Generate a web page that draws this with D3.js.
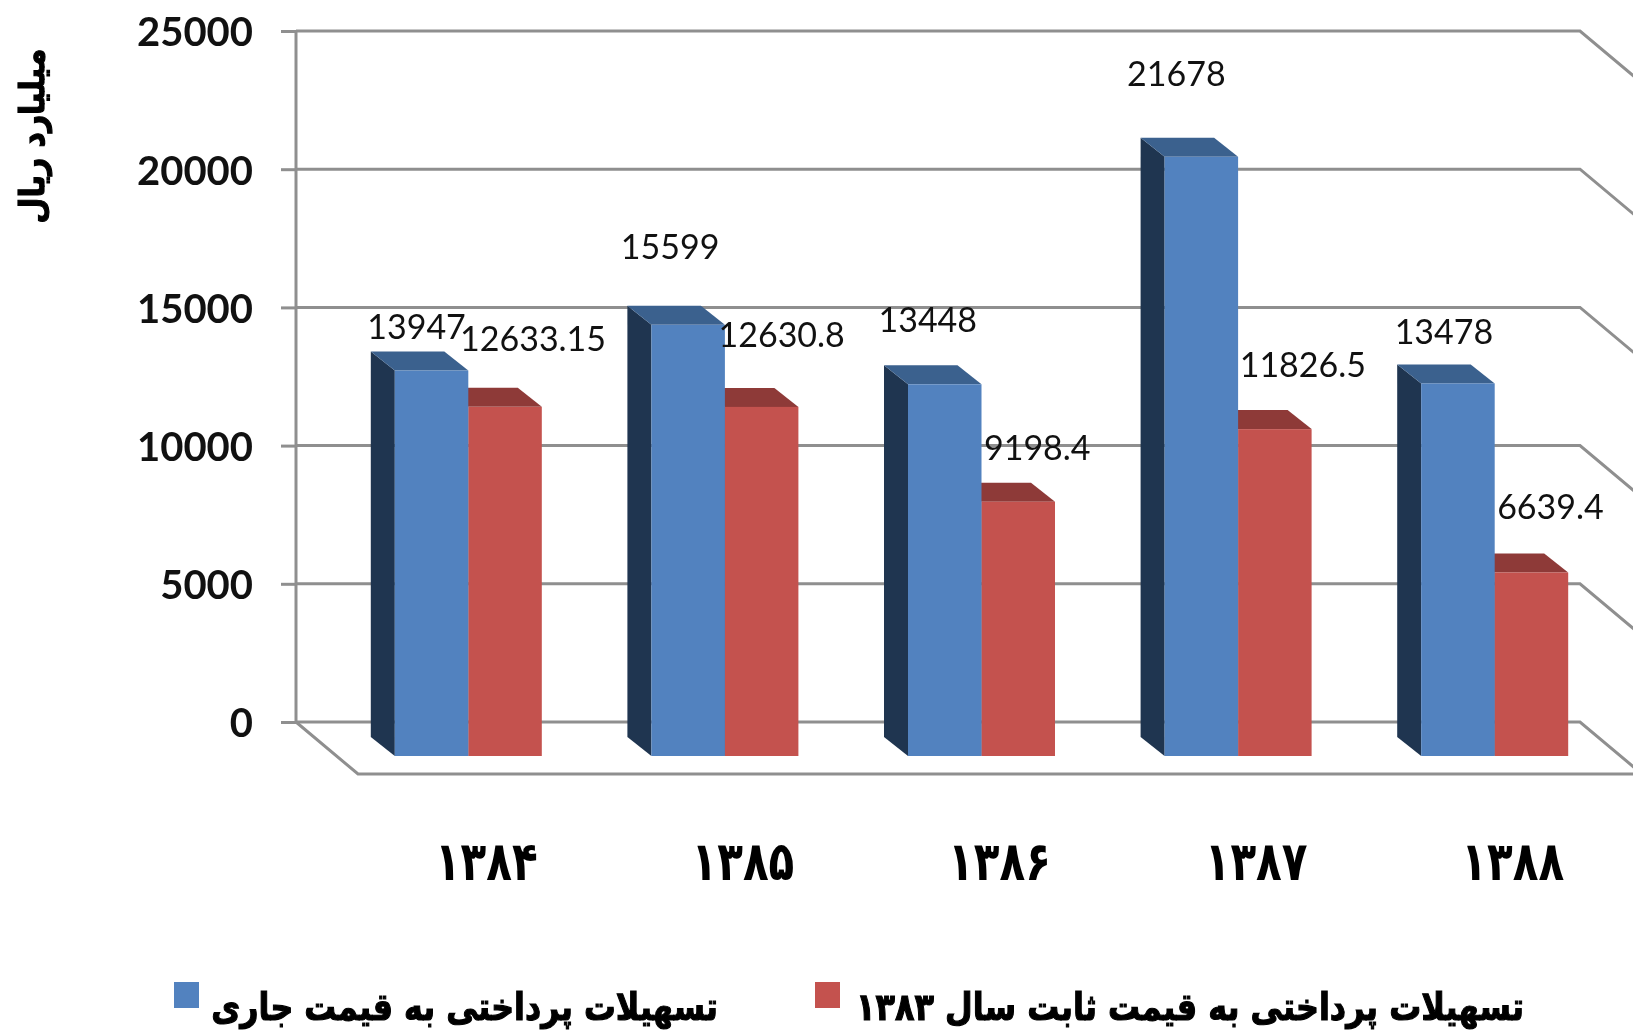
<!DOCTYPE html>
<html>
<head>
<meta charset="utf-8">
<script src="https://cdn.jsdelivr.net/npm/d3@7"></script>
<style>
	html, body { margin: 0; padding: 0; background: #fff; overflow: hidden; }
	svg { display: block; filter: blur(0.6px); }
	.tick-y text { font-family: Lato, sans-serif; font-weight: 700; font-size: 40px; fill: #111; }
	.tick-x text { font-family: "DejaVu Sans", sans-serif; font-weight: 700; font-size: 54px; fill: #000; }
	.value-label { font-family: Lato, sans-serif; font-size: 34px; fill: #111; text-anchor: middle; }
	.fa-label { font-family: "DejaVu Sans", sans-serif; font-weight: 700; fill: #000; stroke: #000; stroke-width: 1.2px; direction: rtl; }
</style>
</head>
<body>
<div id="chart"></div>
<script>
// values
var years = ["۱۳۸۴", "۱۳۸۵", "۱۳۸۶", "۱۳۸۷", "۱۳۸۸"];
var currentPrice = [13947, 15599, 13448, 21678, 13478];
var constantPrice = [12633.15, 12630.8, 9198.4, 11826.5, 6639.4];
var yTicks = [0, 5000, 10000, 15000, 20000, 25000];
var legendCurrent = "تسهیلات پرداختی به قیمت جاری";
var legendConstant = "تسهیلات پرداختی به قیمت ثابت سال ۱۳۸۳";
var yTitle = "میلیارد ریال";

// where the labels sit relative to the front top of their bar
var currentLabelOffset = [[-15, -44], [-18, -78], [-17, -65], [-25, -83], [-14, -52]];
var constantLabelOffset = [[28, -68], [20, -72], [19, -54], [28, -64], [19, -66]];

var width = 1633, height = 1036;

var svg = d3.select("#chart").append("svg")
	.attr("width", width)
	.attr("height", height);

/* scales */
var y = d3.scaleLinear().domain([0, 25000]).range([722, 31]);
var x = d3.scaleBand().domain(years).range([340, 1623]);
var xSeries = d3.scaleBand().domain(["current", "constant"]).range([-73.5, 73.5]);

// 3d offsets
var wallLeft = 296, wallRight = 1580;
var floorDx = 62, floorDy = 52;
var frontDrop = 34;
var depthX = 24, depthY = 19;

var gridColor = "#8f8f8f";

/* walls and grid */
var grid = svg.append("g")
	.attr("stroke", gridColor)
	.attr("stroke-width", 3)
	.attr("fill", "none");

grid.selectAll("path.level")
	.data(yTicks)
	.join("path")
	.attr("class", "level")
	.attr("d", d => d3.line()([
		[wallLeft, y(d)],
		[wallRight, y(d)],
		[wallRight + floorDx, y(d) + floorDy]
	]));

grid.append("line")
	.attr("x1", wallLeft).attr("x2", wallLeft)
	.attr("y1", y(25000)).attr("y2", y(0));

grid.append("path")
	.attr("d", d3.line()([
		[wallLeft, y(0)],
		[wallLeft + floorDx, y(0) + floorDy],
		[wallRight + floorDx, y(0) + floorDy]
	]));

/* y axis */
svg.append("g")
	.attr("class", "tick-y")
	.attr("transform", "translate(" + wallLeft + ",0)")
	.call(d3.axisLeft(y).tickValues(yTicks).tickFormat(d3.format("d")).tickSize(15).tickPadding(28))
	.call(g => g.select(".domain").remove())
	.call(g => g.selectAll("line").attr("stroke", gridColor).attr("stroke-width", 3))
	.call(g => g.selectAll("text").attr("y", 2));

/* x axis */
svg.append("g")
	.attr("class", "tick-x")
	.attr("transform", "translate(18,861)")
	.call(d3.axisBottom(x).tickSize(0).tickPadding(0))
	.call(g => g.select(".domain").remove())
	.call(g => g.selectAll("text").attr("y", 0).attr("dy", "0.36em").attr("transform", "scale(0.78,1)"));

/* bars */
function drawBars(values, key, front, side, topFace) {

	var bars = svg.append("g").attr("class", "bars-" + key)
		.selectAll("g")
		.data(values)
		.join("g")
		.attr("transform", (d, i) => "translate(" + (x(years[i]) + x.bandwidth() / 2 + xSeries(key)) + ",0)");

	var w = xSeries.bandwidth();

	bars.append("path")
		.attr("fill", side)
		.attr("d", d => d3.line()([
			[0, y(d) + frontDrop],
			[-depthX, y(d) + frontDrop - depthY],
			[-depthX, y(0) + frontDrop - depthY],
			[0, y(0) + frontDrop]
		]));

	bars.append("path")
		.attr("fill", topFace)
		.attr("d", d => d3.line()([
			[0, y(d) + frontDrop],
			[-depthX, y(d) + frontDrop - depthY],
			[w - depthX, y(d) + frontDrop - depthY],
			[w, y(d) + frontDrop]
		]));

	bars.append("rect")
		.attr("fill", front)
		.attr("x", 0)
		.attr("width", w)
		.attr("y", d => y(d) + frontDrop)
		.attr("height", d => y(0) - y(d));
}

// red first, the blue bar covers its back corner
drawBars(constantPrice, "constant", "#C4524E", "#8E3A38", "#8E3A38");
drawBars(currentPrice, "current", "#5282BF", "#1F3550", "#3B618E");

/* value labels */
function drawLabels(values, key, offsets) {
	svg.append("g")
		.selectAll("text")
		.data(values)
		.join("text")
		.attr("class", "value-label")
		.attr("x", (d, i) => x(years[i]) + x.bandwidth() / 2 + xSeries(key) + xSeries.bandwidth() / 2 + offsets[i][0])
		.attr("y", (d, i) => y(d) + frontDrop + offsets[i][1])
		.attr("dy", "0.36em")
		.text(d => d);
}

drawLabels(currentPrice, "current", currentLabelOffset);
drawLabels(constantPrice, "constant", constantLabelOffset);

/* y title */
svg.append("text")
	.attr("class", "fa-label")
	.attr("transform", "translate(32,136) rotate(-90) scale(0.88,1)")
	.attr("text-anchor", "middle")
	.attr("dy", "0.36em")
	.style("font-size", "34px")
	.text(yTitle);

/* legend */
svg.append("rect").attr("x", 174).attr("y", 982).attr("width", 25).attr("height", 26).attr("fill", "#5282BF");
svg.append("rect").attr("x", 815).attr("y", 982).attr("width", 25).attr("height", 26).attr("fill", "#C4524E");

svg.append("text")
	.attr("class", "fa-label")
	.attr("transform", "translate(718,1020) scale(0.835,1)")
	.style("font-size", "38px")
	.text(legendCurrent);

svg.append("text")
	.attr("class", "fa-label")
	.attr("transform", "translate(1524,1020) scale(0.84,1)")
	.style("font-size", "38px")
	.text(legendConstant);
</script>
</body>
</html>
